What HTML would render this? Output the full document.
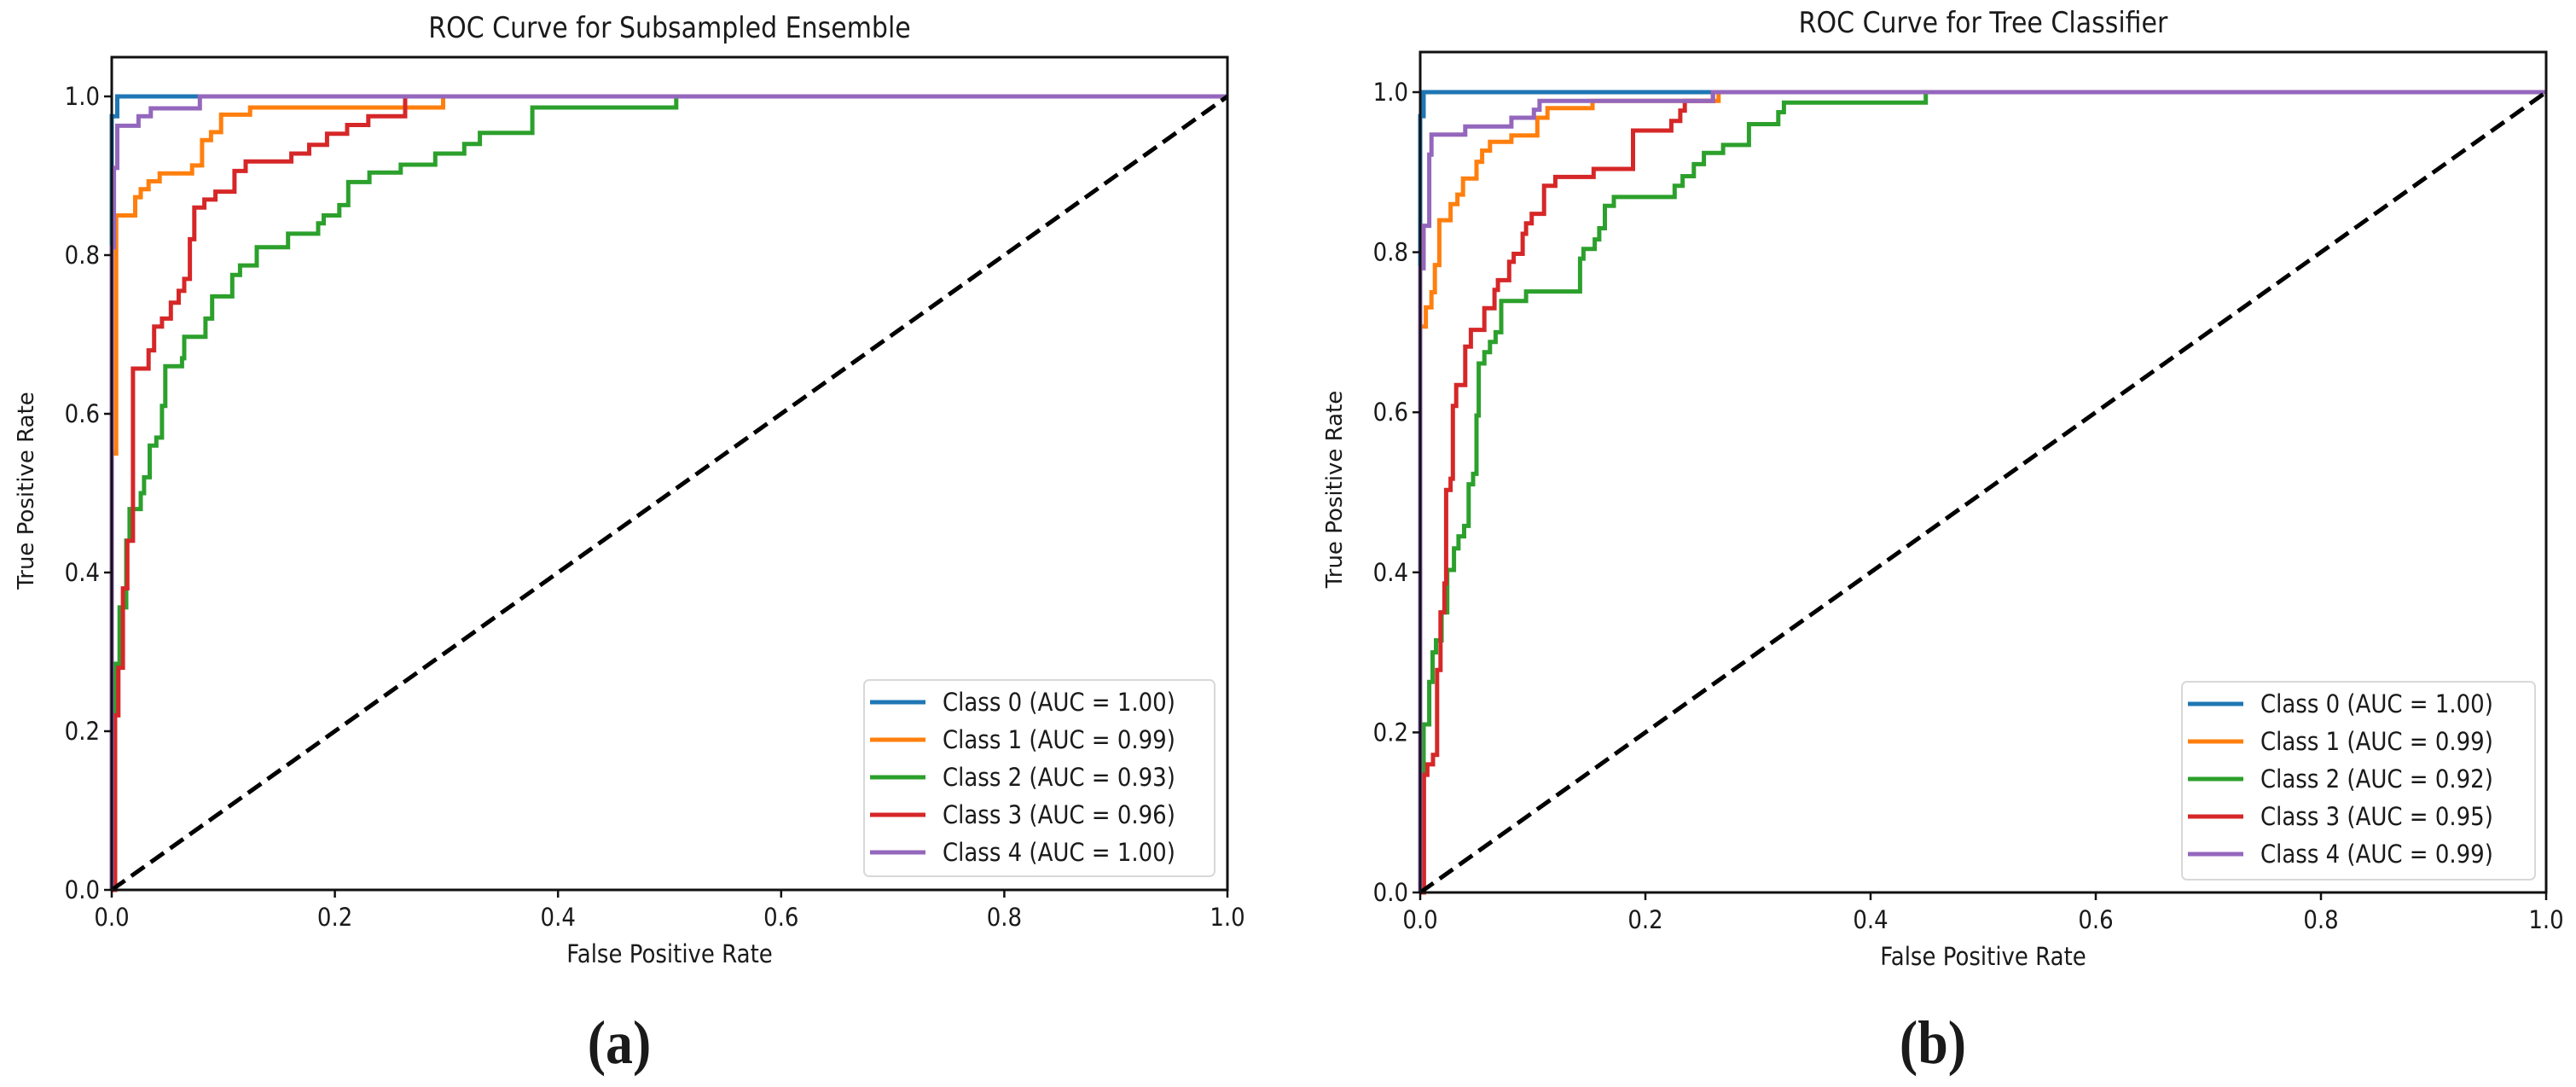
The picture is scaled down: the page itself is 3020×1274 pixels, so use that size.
<!DOCTYPE html>
<html><head><meta charset="utf-8">
<style>
html,body{margin:0;padding:0;background:#fff;}
svg{display:block;}
text{font-family:"DejaVu Sans","Liberation Sans",sans-serif;fill:#1a1a1a;}
</style></head>
<body>
<svg id="fig" width="3020" height="1274" viewBox="0 0 3020 1274" xmlns="http://www.w3.org/2000/svg"></svg>
<script>
// Step-ROC data: at each fpr step the curve rises vertically to the matching tpr.
const classNames = ["Class 0","Class 1","Class 2","Class 3","Class 4"];
const colors = ["#1f77b4","#ff7f0e","#2ca02c","#d62728","#9467bd"];
const aucA = ["1.00","0.99","0.93","0.96","1.00"];
const aucB = ["1.00","0.99","0.92","0.95","0.99"];
const tickValues = [0.0,0.2,0.4,0.6,0.8,1.0];
const tickLabels = ["0.0","0.2","0.4","0.6","0.8","1.0"];

// ---- panel (a) Subsampled Ensemble ----
const a0fpr=[0,0.005];
const a0tpr=[0.975,1];
const a1fpr=[0,0.004,0.021,0.026,0.033,0.043,0.072,0.081,0.089,0.098,0.124,0.297];
const a1tpr=[0.55,0.85,0.873,0.883,0.893,0.903,0.913,0.945,0.955,0.977,0.986,1];
const a2fpr=[0.003,0.007,0.013,0.016,0.026,0.029,0.034,0.04,0.045,0.048,0.063,0.065,0.084,0.09,0.108,0.115,0.13,0.158,0.185,0.19,0.204,0.212,0.231,0.259,0.29,0.316,0.33,0.377,0.506];
const a2tpr=[0.285,0.356,0.44,0.48,0.50,0.52,0.56,0.57,0.61,0.66,0.67,0.697,0.72,0.748,0.775,0.787,0.81,0.827,0.84,0.85,0.863,0.892,0.904,0.914,0.928,0.94,0.954,0.986,1];
const a3fpr=[0.003,0.006,0.01,0.014,0.019,0.033,0.038,0.045,0.053,0.06,0.065,0.07,0.074,0.083,0.093,0.11,0.12,0.161,0.177,0.193,0.211,0.23,0.263];
const a3tpr=[0.22,0.28,0.38,0.44,0.657,0.68,0.71,0.72,0.74,0.755,0.77,0.82,0.86,0.87,0.88,0.906,0.918,0.928,0.939,0.953,0.964,0.975,1];
const a4fpr=[0,0.002,0.005,0.024,0.035,0.079];
const a4tpr=[0.81,0.91,0.963,0.975,0.985,1];

// ---- panel (b) Tree Classifier ----
const b0fpr=[0,0.003];
const b0tpr=[0.97,1];
const b1fpr=[0,0.005,0.01,0.013,0.017,0.027,0.033,0.038,0.05,0.055,0.062,0.081,0.104,0.113,0.153,0.265];
const b1tpr=[0.707,0.731,0.75,0.784,0.84,0.86,0.872,0.892,0.913,0.927,0.938,0.946,0.968,0.98,0.989,1];
const b2fpr=[0.003,0.008,0.011,0.014,0.019,0.024,0.03,0.034,0.039,0.043,0.047,0.05,0.052,0.057,0.062,0.067,0.072,0.094,0.142,0.145,0.155,0.159,0.164,0.172,0.226,0.233,0.243,0.252,0.269,0.292,0.318,0.323,0.449];
const b2tpr=[0.21,0.263,0.30,0.315,0.35,0.403,0.43,0.445,0.458,0.51,0.523,0.596,0.661,0.675,0.688,0.70,0.739,0.751,0.792,0.804,0.816,0.83,0.858,0.869,0.883,0.895,0.91,0.924,0.934,0.96,0.975,0.987,1];
const b3fpr=[0.0033,0.0064,0.0114,0.015,0.018,0.0215,0.023,0.027,0.029,0.032,0.04,0.045,0.057,0.066,0.069,0.079,0.083,0.091,0.094,0.099,0.11,0.12,0.154,0.189,0.223,0.231,0.235,0.26];
const b3tpr=[0.147,0.16,0.172,0.278,0.35,0.386,0.503,0.517,0.608,0.634,0.682,0.703,0.73,0.753,0.765,0.788,0.798,0.823,0.836,0.848,0.883,0.894,0.904,0.952,0.964,0.977,0.989,1];
const b4fpr=[0,0.003,0.008,0.01,0.04,0.081,0.101,0.106,0.26];
const b4tpr=[0.78,0.833,0.922,0.947,0.957,0.968,0.978,0.989,1];

const NS="http://www.w3.org/2000/svg";
const svg=document.getElementById('fig');
function mk(tag,attrs,parent){const e=document.createElementNS(NS,tag);for(const k in attrs)e.setAttribute(k,attrs[k]);(parent||svg).appendChild(e);return e;}
function txt(str,x,y,fs,anchor,parent,sy,weight,family){
  const g=mk('g',{transform:`translate(${x},${y}) scale(1,${sy||1.12})`},parent);
  const t=mk('text',{x:0,y:0,'font-size':fs,'text-anchor':anchor||'start'},g);
  if(weight)t.setAttribute('font-weight',weight);
  if(family)t.setAttribute('style','font-family:'+family);
  t.textContent=str;return t;
}

function panel(cfg){
  const P=cfg.px;
  const g=mk('g',{});
  
  
  const sx=v=>P.x0+v*(P.x1-P.x0);
  const sy=v=>P.y0+v*(P.y1-P.y0);
  cfg.series.forEach((s,i)=>{
    let d='M'+sx(0)+','+sy(0);
    let prev=0;
    const n=Math.min(s.f.length,s.t.length);
    for(let k=0;k<n;k++){
      d+='L'+sx(s.f[k]).toFixed(1)+','+sy(prev).toFixed(1);
      d+='L'+sx(s.f[k]).toFixed(1)+','+sy(s.t[k]).toFixed(1);
      prev=s.t[k];
    }
    d+='L'+sx(1)+','+sy(prev).toFixed(1);
    const p=mk('path',{d:d,fill:'none',stroke:colors[i],'stroke-width':5,'stroke-linejoin':'miter'},g);
    
    
  });
  const dg=mk('line',{x1:sx(0),y1:sy(0),x2:sx(1),y2:sy(1),stroke:'#000','stroke-width':5,'stroke-dasharray':'19,9'},g);
  
  
  const fr=mk('rect',{x:P.x0,y:P.top,width:P.x1-P.x0,height:P.y0-P.top,fill:'none',stroke:'#111','stroke-width':3},g);
  
  
  tickValues.forEach((v,i)=>{
    mk('line',{x1:sx(v),y1:P.y0,x2:sx(v),y2:P.y0+9,stroke:'#111','stroke-width':2.5},g);
    const t=txt(tickLabels[i],sx(v),P.y0+42,26,'middle',g);
    
    
    mk('line',{x1:P.x0-9,y1:sy(v),x2:P.x0,y2:sy(v),stroke:'#111','stroke-width':2.5},g);
    const u=txt(tickLabels[i],P.x0-14,sy(v)+10,26,'end',g);
    
    
  });
  const ti=txt(cfg.title,(P.x0+P.x1)/2,P.top-23,30,'middle',g);
  
  
  const xl=txt('False Positive Rate',(P.x0+P.x1)/2,P.y0+85,26,'middle',g);
  
  
  const yg=mk('g',{transform:`translate(${P.x0-92},${(P.y0+P.top)/2+20}) rotate(-90)`},g);
  const yl=txt('True Positive Rate',0,0,26,'middle',yg,1.0);
  
  
  const L=cfg.legend;
  const lg=mk('g',{},g);
  
  
  mk('rect',{x:L.x,y:L.y,width:L.w,height:L.h,rx:6,fill:'#fff','fill-opacity':0.85,stroke:'#d8d8d8','stroke-width':2},lg);
  cfg.series.forEach((s,i)=>{
    const cy=L.y+26+i*44;
    const eg=mk('g',{},lg);
    
    
    mk('line',{x1:L.x+7,y1:cy,x2:L.x+72,y2:cy,stroke:colors[i],'stroke-width':5},eg);
    txt(classNames[i]+' (AUC = '+cfg.auc[i]+')',L.x+92,cy+10,26,'start',eg);
  });
  const cap=txt(cfg.caption,cfg.capX,1246,64,'middle',svg,1.12,'bold','"Liberation Serif",serif');
  
  
}

panel({name:'roc-panel-a',title:'ROC Curve for Subsampled Ensemble',caption:'(a)',capX:726,auc:aucA,
  px:{x0:131,x1:1439,y0:1043,y1:113,top:67},
  legend:{x:1013,y:797,w:411,h:230},
  series:[{f:a0fpr,t:a0tpr},{f:a1fpr,t:a1tpr},{f:a2fpr,t:a2tpr},{f:a3fpr,t:a3tpr},{f:a4fpr,t:a4tpr}]});
panel({name:'roc-panel-b',title:'ROC Curve for Tree Classifier',caption:'(b)',capX:2266,auc:aucB,
  px:{x0:1665,x1:2985,y0:1046,y1:108,top:61},
  legend:{x:2558,y:799,w:414,h:232},
  series:[{f:b0fpr,t:b0tpr},{f:b1fpr,t:b1tpr},{f:b2fpr,t:b2tpr},{f:b3fpr,t:b3tpr},{f:b4fpr,t:b4tpr}]});
</script>
</body></html>
